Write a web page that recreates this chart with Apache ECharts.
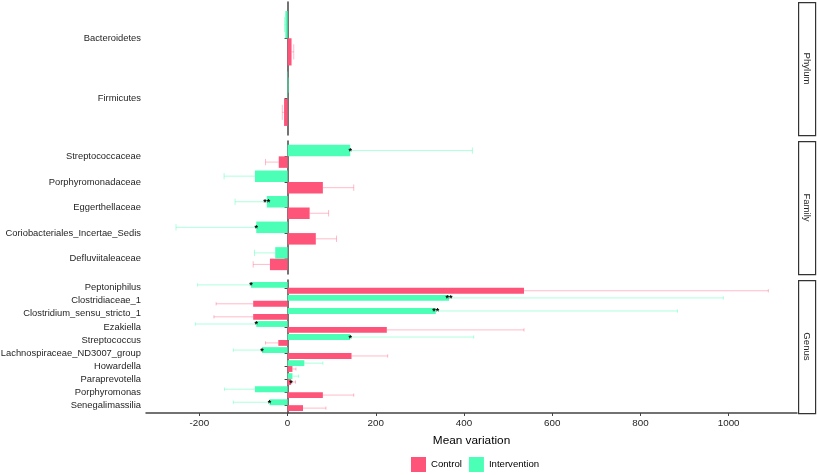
<!doctype html>
<html lang="en">
<head>
    <meta charset="UTF-8">
    <title>Mean variation</title>
    <script src="https://cdn.jsdelivr.net/npm/echarts@6/dist/echarts.min.js"></script>
    <style>
        html, body { margin: 0; padding: 0; background: #fff; }
        #chart { width: 817px; height: 475px; }
    </style>
</head>
<body>
<div id="chart"></div>
<script type="text/javascript">
    // categories listed top to bottom, as they appear in each panel
    var phylumNames = ['Bacteroidetes', 'Firmicutes'];
    var phylumControl = [9, -8];
    var phylumControlErr = [5, 4];
    var phylumIntervention = [-5, 1];
    var phylumInterventionErr = [2, 1];
    var phylumControlSig = ['', ''];
    var phylumInterventionSig = ['', ''];

    var familyNames = ['Streptococcaceae', 'Porphyromonadaceae', 'Eggerthellaceae',
        'Coriobacteriales_Incertae_Sedis', 'Defluviitaleaceae'];
    var familyControl = [-20, 80, 50, 64, -40];
    var familyControlErr = [30, 70, 43, 47, 38];
    var familyIntervention = [142, -74, -47, -71, -28];
    var familyInterventionErr = [277, 70, 72, 182, 47];
    var familyControlSig = ['', '', '', '', ''];
    var familyInterventionSig = ['*', '', '**', '*', ''];

    var genusNames = ['Peptoniphilus', 'Clostridiaceae_1', 'Clostridium_sensu_stricto_1', 'Ezakiella',
        'Streptococcus', 'Lachnospiraceae_ND3007_group', 'Howardella', 'Paraprevotella',
        'Porphyromonas', 'Senegalimassilia'];
    var genusControl = [536, -78, -78, 225, -21, 145, 11, 8, 80, 35];
    var genusControlErr = [554, 84, 89, 311, 29, 82, 8, 10, 70, 52];
    var genusIntervention = [-83, 366, 336, -71, 142, -58, 38, 11, -74, -41];
    var genusInterventionErr = [121, 622, 548, 138, 280, 65, 42, 14, 69, 82];
    var genusControlSig = ['', '', '', '', '', '', '', '*', '', ''];
    var genusInterventionSig = ['*', '**', '**', '*', '*', '*', '', '', '', '*'];

    var xTicks = [-200, 0, 200, 400, 600, 800, 1000];
    var stripLabels = ['Phylum', 'Family', 'Genus'];

    var RED = '#FF5479';
    var GREEN = '#4BFFB6';
    var RED_ERR = 'rgba(255,84,121,0.4)';
    var GREEN_ERR = 'rgba(75,255,182,0.45)';
    var FONT = '"Liberation Sans", Arial, sans-serif';
    var TXT = '#1f1f1f';
    var AXIS = '#444';
    var BAR = 0.45;   // each dodged bar
    var CAP = 0.25;   // error bar cap

    var panels = [
        {names: phylumNames, ctl: phylumControl, ctlErr: phylumControlErr, ctlSig: phylumControlSig,
            itv: phylumIntervention, itvErr: phylumInterventionErr, itvSig: phylumInterventionSig},
        {names: familyNames, ctl: familyControl, ctlErr: familyControlErr, ctlSig: familyControlSig,
            itv: familyIntervention, itvErr: familyInterventionErr, itvSig: familyInterventionSig},
        {names: genusNames, ctl: genusControl, ctlErr: genusControlErr, ctlSig: genusControlSig,
            itv: genusIntervention, itvErr: genusInterventionErr, itvSig: genusInterventionSig}
    ];
    var panelTops = [2, 141, 280];
    var panelH = 133;

    function makeRender(side, sig, barColor, errColor) {
        return function (params, api) {
            var v = api.value(0), p = api.value(1), e = api.value(2);
            var yc = p + side * BAR / 2;
            var a = api.coord([0, p]);
            var b = api.coord([v, p + side * BAR]);
            var end = v < 0 ? v - e : v + e;
            var c0 = api.coord([v, yc]);
            var c1 = api.coord([end, yc]);
            var capH = Math.abs(api.size([0, CAP])[1]);
            var children = [
                {type: 'rect', shape: {x: Math.min(a[0], b[0]), y: Math.min(a[1], b[1]),
                    width: Math.abs(b[0] - a[0]), height: Math.abs(b[1] - a[1])},
                    style: {fill: barColor}},
                {type: 'line', shape: {x1: c0[0], y1: c0[1], x2: c1[0], y2: c1[1]},
                    style: {stroke: errColor, lineWidth: 1}},
                {type: 'line', shape: {x1: c1[0], y1: c1[1] - capH / 2, x2: c1[0], y2: c1[1] + capH / 2},
                    style: {stroke: errColor, lineWidth: 1}}
            ];
            var s = sig[params.dataIndex];
            if (s) {
                children.push({type: 'text', x: c0[0], y: c0[1] + 1,
                    style: {text: s, fill: '#000', font: 'bold 9px ' + FONT,
                        align: 'center', verticalAlign: 'middle'}});
            }
            return {type: 'group', children: children};
        };
    }

    var grids = [], xAxes = [], yAxes = [], series = [], graphics = [];
    panels.forEach(function (pn, k) {
        var n = pn.names.length;
        grids.push({left: 146, width: 651, top: panelTops[k], height: panelH,
            containLabel: false, outerBoundsMode: 'none'});
        var last = k === panels.length - 1;
        xAxes.push({
            type: 'value', gridIndex: k, min: -321, max: 1155, show: last,
            splitLine: {show: false},
            axisLine: {show: true, lineStyle: {color: AXIS, width: 1.5}},
            axisTick: {show: true, length: 3, customValues: xTicks, lineStyle: {color: AXIS}},
            axisLabel: {customValues: xTicks, margin: 5, color: TXT, fontSize: 9.8, fontFamily: FONT,
                formatter: function (v) { return String(v); }},
            name: last ? 'Mean variation' : '', nameLocation: 'middle', nameGap: 22,
            nameTextStyle: {color: '#000', fontSize: 11.8, fontFamily: FONT}
        });
        var pos = [];
        for (var i = 1; i <= n; i++) pos.push(i);
        yAxes.push({
            type: 'value', gridIndex: k, min: 0.4, max: n + 0.6,
            splitLine: {show: false},
            axisLine: {show: true, lineStyle: {color: AXIS, width: 1.5}},
            axisTick: {show: true, length: 3, customValues: pos, lineStyle: {color: AXIS}},
            axisLabel: {customValues: pos, margin: 5, color: TXT, fontSize: 9.4, fontFamily: FONT,
                padding: [3, 0, 0, 0],
                formatter: function (v) { return pn.names[n - Math.round(v)]; }}
        });
        var ctlData = [], itvData = [];
        for (var j = 0; j < n; j++) {
            ctlData.push([pn.ctl[j], n - j, pn.ctlErr[j]]);
            itvData.push([pn.itv[j], n - j, pn.itvErr[j]]);
        }
        series.push({
            name: 'Control', type: 'custom', xAxisIndex: k, yAxisIndex: k,
            itemStyle: {color: RED}, encode: {x: 0, y: 1},
            renderItem: makeRender(-1, pn.ctlSig, RED, RED_ERR), data: ctlData
        });
        series.push({
            name: 'Intervention', type: 'custom', xAxisIndex: k, yAxisIndex: k,
            itemStyle: {color: GREEN}, encode: {x: 0, y: 1},
            renderItem: makeRender(1, pn.itvSig, GREEN, GREEN_ERR), data: itvData
        });
        // facet strip on the right
        graphics.push({type: 'rect', left: 798, top: panelTops[k], z: 10,
            shape: {width: 17, height: panelH},
            style: {fill: '#fff', stroke: '#333', lineWidth: 1.2}});
        graphics.push({type: 'text', x: 806.5, y: panelTops[k] + panelH / 2, rotation: -Math.PI / 2, z: 11,
            style: {text: stripLabels[k], fill: TXT, font: '9.6px ' + FONT,
                align: 'center', verticalAlign: 'middle'}});
    });

    var chart = echarts.init(document.getElementById('chart'));
    chart.setOption({
        animation: false,
        backgroundColor: '#fff',
        color: [RED, GREEN],
        grid: grids,
        xAxis: xAxes,
        yAxis: yAxes,
        legend: {
            data: ['Control', 'Intervention'], icon: 'rect', itemWidth: 15, itemHeight: 15,
            itemGap: 7, left: 411, top: 457, padding: 0,
            textStyle: {color: '#000', fontSize: 9.6, fontFamily: FONT}
        },
        graphic: graphics,
        series: series
    });
</script>
</body>
</html>
